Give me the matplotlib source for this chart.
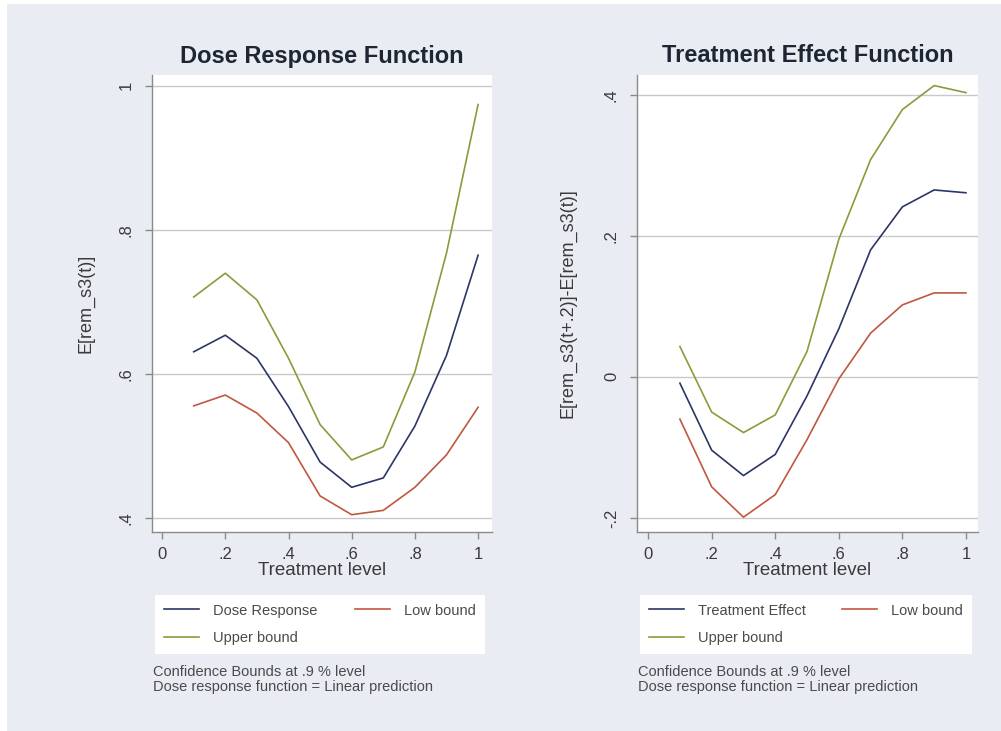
import matplotlib
matplotlib.use('Agg')
import matplotlib.pyplot as plt
from matplotlib.patches import Rectangle

plt.rcParams['font.family'] = ['Liberation Sans', 'DejaVu Sans']

# treatment levels
levels = [0.1, 0.2, 0.3, 0.4, 0.5, 0.6, 0.7, 0.8, 0.9, 1.0]

# dose response panel
dose = [0.631, 0.654, 0.622, 0.555, 0.478, 0.443, 0.456, 0.528, 0.626, 0.765]
dose_upper = [0.707, 0.740, 0.703, 0.622, 0.530, 0.481, 0.499, 0.603, 0.768, 0.974]
dose_low = [0.556, 0.571, 0.546, 0.505, 0.431, 0.405, 0.411, 0.443, 0.488, 0.554]

# treatment effect panel
te = [-0.009, -0.104, -0.140, -0.110, -0.027, 0.068, 0.180, 0.241, 0.265, 0.261]
te_upper = [0.043, -0.050, -0.079, -0.054, 0.036, 0.195, 0.308, 0.379, 0.413, 0.403]
te_low = [-0.060, -0.156, -0.199, -0.167, -0.089, -0.003, 0.062, 0.102, 0.119, 0.119]

x_ticks = [0, 0.2, 0.4, 0.6, 0.8, 1.0]
x_labels = ['0', '.2', '.4', '.6', '.8', '1']
dose_yticks = [0.4, 0.6, 0.8, 1.0]
dose_ylabels = ['.4', '.6', '.8', '1']
te_yticks = [-0.2, 0, 0.2, 0.4]
te_ylabels = ['-.2', '0', '.2', '.4']

note = 'Confidence Bounds at .9 % level\nDose response function = Linear prediction'

c_main = '#2c3568'
c_low = '#c0573f'
c_up = '#8c9a3a'
bg = '#e9edf3'

fig = plt.figure(figsize=(10.01, 7.31), dpi=100, facecolor='white')
fig.patches.append(Rectangle((7 / 1001, 0), 1, 1 - 4 / 731, transform=fig.transFigure,
                             facecolor=bg, edgecolor='none', zorder=-5))

panels = [
    dict(left=152, right=492, title='Dose Response Function', ylabel='E[rem_s3(t)]',
         main=dose, up=dose_upper, low=dose_low, main_name='Dose Response',
         yticks=dose_yticks, ylabels=dose_ylabels, xlim=(-0.032, 1.044), ylim=(0.381, 1.015),
         ylab_x=95, leg_left=155, leg_right=485),
    dict(left=637, right=978, title='Treatment Effect Function',
         ylabel='E[rem_s3(t+.2)]-E[rem_s3(t)]',
         main=te, up=te_upper, low=te_low, main_name='Treatment Effect',
         yticks=te_yticks, ylabels=te_ylabels, xlim=(-0.035, 1.038), ylim=(-0.22, 0.428),
         ylab_x=576, leg_left=640, leg_right=972),
]

for p in panels:
    ax = fig.add_axes([p['left'] / 1001, 1 - 532 / 731,
                       (p['right'] - p['left']) / 1001, (532 - 75) / 731])
    ax.set_zorder(2)
    ax.set_facecolor('white')
    for yt in p['yticks']:
        ax.axhline(yt, color='#c9c9c9', lw=1.0, zorder=1)
    l1, = ax.plot(levels, p['main'], color=c_main, lw=1.2, label=p['main_name'], zorder=3)
    l2, = ax.plot(levels, p['up'], color=c_up, lw=1.2, label='Upper bound', zorder=3)
    l3, = ax.plot(levels, p['low'], color=c_low, lw=1.2, label='Low bound', zorder=3)
    ax.set_xlim(*p['xlim'])
    ax.set_ylim(*p['ylim'])
    ax.set_xticks(x_ticks)
    ax.set_xticklabels(x_labels)
    ax.set_yticks(p['yticks'])
    ax.set_yticklabels(p['ylabels'], rotation=90, va='center')
    for s in ['top', 'right']:
        ax.spines[s].set_visible(False)
    for s in ['left', 'bottom']:
        ax.spines[s].set_color('#8a8a8a')
        ax.spines[s].set_linewidth(1.0)
    ax.tick_params(axis='both', colors='#8a8a8a', labelcolor='#3a3a3a', labelsize=12,
                   length=5, width=1.0)
    ax.tick_params(axis='x', pad=6)
    ax.tick_params(axis='y', pad=8)
    ax.set_xlabel('Treatment level', fontsize=13.5, color='#3a3a3a', labelpad=0)
    ax.set_ylabel(p['ylabel'], fontsize=13, color='#3a3a3a')
    ax.yaxis.set_label_coords((p['ylab_x'] - p['left']) / (p['right'] - p['left']), 0.5)
    ax.set_title(p['title'], fontsize=17, fontweight='bold', color='#1e2533', pad=9)

    leg = fig.legend(handles=[l1, l2, l3], ncol=2, mode='expand', loc='center',
                     bbox_to_anchor=(p['leg_left'] / 1001, 1 - 656 / 731,
                                     (p['leg_right'] - p['leg_left']) / 1001, 63 / 731),
                     bbox_transform=fig.transFigure, fontsize=10.5, frameon=True,
                     fancybox=False, edgecolor='none', facecolor='white', framealpha=1,
                     handlelength=2.4, handletextpad=1.0, labelspacing=0.95,
                     borderpad=0.6, borderaxespad=0)
    leg.set_zorder(3)
    for t in leg.get_texts():
        t.set_color('#4a4a4a')
    fig.text((p['leg_left'] - 2) / 1001, 1 - 665 / 731, note, fontsize=10.5,
             color='#4a4a4a', va='top', ha='left', linespacing=1.1)

fig.savefig('out.png', dpi=100, facecolor=fig.get_facecolor())
